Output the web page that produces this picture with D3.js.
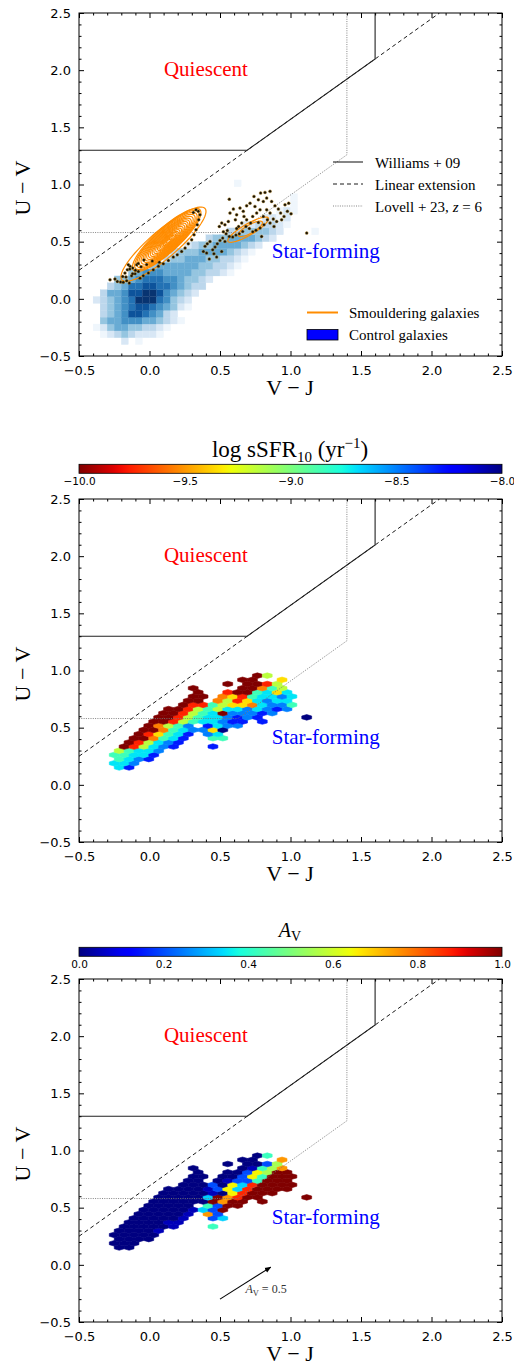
<!DOCTYPE html>
<html>
<head>
<meta charset="utf-8">
<script src="https://cdn.jsdelivr.net/npm/d3@7/dist/d3.min.js"></script>
<style>
  body { margin: 0; background: #fff; }
  svg { display: block; }
</style>
</head>
<body>
<svg id="chart" width="514" height="1367"></svg>
<script>
// ---------- axis ranges and ticks ----------
const vjRange = [-0.5, 2.5];
const uvRange = [-0.5, 2.5];
const majorTicks = [-0.5, 0.0, 0.5, 1.0, 1.5, 2.0, 2.5];
const ssfrTicks = [-10.0, -9.5, -9.0, -8.5, -8.0];
const avTicks = [0.0, 0.2, 0.4, 0.6, 0.8, 1.0];

// ---------- UVJ selection boundaries, [V−J, U−V] ----------
const williams09 = [[-0.5, 1.3], [0.693, 1.3], [1.6, 2.098], [1.6, 2.5]];
const linearExtension = [[-0.5, 0.25], [2.057, 2.5]];
const lovell23z6 = [[-0.5, 0.58], [0.627, 0.58], [1.4, 1.26], [1.4, 2.5]];

// ---------- control galaxies: 2D histogram (relative counts 0-9) ----------
const controlEdgeVJ = -0.4, controlBinVJ = 0.05;
const controlEdgeUV = -0.4, controlBinUV = 0.06;
// one string per U−V bin, from the lowest bin upwards; one digit per V−J bin
const controlCounts = [
  "00002010000000000000000000000000",
  "01234322210000000000000000000000",
  "12455443321000000000000000000000",
  "04556665543210000000000000000000",
  "03456887653200000000000000000000",
  "03456788765421000000000000000000",
  "23456799976432000000000000000000",
  "03556889986543200000000000000000",
  "00345778877654330000000000000000",
  "00044567776654432000000000000000",
  "00000456665555443321000000000000",
  "00000000455555544332100000000000",
  "00000000003445554433210000000000",
  "00000000000344455554321000000000",
  "00000000000002344555543200000000",
  "00000000000000003445555432000000",
  "00000000000000000003344443200001",
  "00000000000000000000022333210000",
  "00000000000000000000000022120000",
  "00000000000000000000000000121000",
  "00000000000000000000000000001000",
  "00000000000000000000000000001000",
  "00000000000000000000000000000000",
  "00000000000000000000100000000000"
];

// ---------- smouldering galaxies, [V−J, U−V] ----------
const smoulderingPoints = [
  [-0.280,0.167],[-0.245,0.173],[-0.228,0.152],[-0.205,0.147],[-0.186,0.144],[-0.162,0.158],
  [-0.143,0.138],[-0.190,0.196],[-0.174,0.225],[-0.157,0.254],[-0.138,0.284],[-0.167,0.190],
  [-0.127,0.202],[-0.103,0.219],[-0.079,0.240],[-0.119,0.269],[-0.091,0.298],[-0.150,0.298],
  [-0.067,0.181],[-0.044,0.202],[-0.008,0.225],[0.027,0.254],[0.063,0.284],[0.098,0.307],
  [0.134,0.336],[0.169,0.365],[0.197,0.386],[0.228,0.415],[0.252,0.444],[0.275,0.482],
  [0.299,0.517],[0.316,0.561],[0.330,0.604],[0.339,0.648],[0.349,0.692],[0.358,0.735],
  [0.346,0.765],[0.330,0.779],[0.311,0.756],
  [-0.10,0.25],[-0.06,0.28],[-0.02,0.30],[-0.08,0.31],[-0.04,0.34],[-0.12,0.22],[-0.14,0.26],
  [0.02,0.33],[0.07,0.32],
  [0.394,0.459],[0.410,0.482],[0.429,0.502],[0.448,0.429],[0.465,0.453],[0.481,0.482],
  [0.500,0.511],[0.519,0.531],[0.535,0.502],[0.424,0.348],[0.476,0.365],[0.405,0.400],
  [0.457,0.394],[0.512,0.415],[0.382,0.415],
  [0.495,0.633],[0.512,0.663],[0.535,0.648],[0.559,0.677],[0.571,0.750],[0.566,0.872],
  [0.595,0.785],[0.618,0.735],[0.642,0.794],[0.665,0.765],[0.689,0.814],[0.713,0.837],
  [0.741,0.896],[0.788,0.925],[0.819,0.931],[0.855,0.940],[0.831,0.881],[0.866,0.852],
  [0.890,0.814],[0.914,0.785],[0.930,0.750],[0.954,0.721],[0.978,0.765],[1.004,0.744],
  [0.902,0.677],[0.878,0.698],[0.855,0.663],[0.812,0.648],[0.784,0.619],[0.755,0.599],
  [0.732,0.587],[0.708,0.616],[0.684,0.633],[0.661,0.590],[0.637,0.569],[0.613,0.558],
  [0.590,0.540],[0.566,0.546],[0.552,0.598],[0.524,0.587],[0.543,0.569],[0.618,0.616],
  [0.689,0.692],[0.732,0.721],[0.760,0.750],[0.784,0.779],[0.831,0.779],[0.855,0.750],
  [0.807,0.721],[0.836,0.692],[0.795,0.546],[0.772,0.668],[0.717,0.663],[0.654,0.663],
  [0.670,0.721],[0.609,0.692],[0.632,0.633],[0.961,0.823],[0.987,0.837],[0.883,0.633],
  [0.937,0.692],[0.748,0.808],[0.807,0.852],[0.772,0.867],
  [1.115,0.575]
];

// density contours of the smouldering galaxies:
// [centre V−J, centre U−V, major-axis tip V−J, major-axis tip U−V, minor/major ratio]
const smoulderingContours = [
  [0.099, 0.478, 0.394, 0.790, 0.25],
  [0.1220, 0.5150, 0.3580, 0.7790, 0.27],
  [0.1227, 0.5143, 0.3445, 0.7625, 0.27],
  [0.1234, 0.5136, 0.3311, 0.7459, 0.28],
  [0.1242, 0.5128, 0.3177, 0.7293, 0.28],
  [0.1249, 0.5121, 0.3043, 0.7127, 0.28],
  [0.1256, 0.5114, 0.2908, 0.6962, 0.29],
  [0.1262, 0.5108, 0.2796, 0.6824, 0.29],
  [0.1268, 0.5102, 0.2684, 0.6686, 0.29],
  [0.1274, 0.5096, 0.2572, 0.6548, 0.30],
  [0.1280, 0.5090, 0.2460, 0.6410, 0.30],
  [0.1286, 0.5084, 0.2348, 0.6272, 0.30],
  [0.1292, 0.5078, 0.2236, 0.6134, 0.31],
  [0.1298, 0.5072, 0.2124, 0.5996, 0.31],
  [0.1304, 0.5066, 0.2012, 0.5858, 0.31],
  [0.1309, 0.5061, 0.1923, 0.5747, 0.32],
  [0.1314, 0.5056, 0.1833, 0.5637, 0.32],
  [0.1318, 0.5052, 0.1743, 0.5527, 0.33],
  [0.1323, 0.5047, 0.1653, 0.5417, 0.33],
  [0.1328, 0.5042, 0.1564, 0.5306, 0.34],
  [0.1333, 0.5037, 0.1475, 0.5195, 0.34],
  [0.700, 0.605, 0.843, 0.707, 0.24],
  [0.715, 0.612, 0.800, 0.672, 0.30]
];

// ---------- hexbin grid shared by both coloured panels ----------
const hexOriginVJ = -0.285, hexWidthVJ = 0.07;
const hexOriginUV = 0.152, hexHeightUV = 0.073;
// one string per half-row (even rows on the main lattice, odd rows offset by half a cell)
// '.' = empty cell, digit = index into the level table of that panel
const ssfrLevels = [-10.0, -9.75, -9.55, -9.35, -9.15, -8.85, -8.7, -8.5, -8.3, -8.0];
const hexSSFR = [
  ".68..................",
  "667.................",
  ".5678................",
  "55668...............",
  ".45667...............",
  ".014678...8.........",
  "..014678.............",
  "..002568..55........",
  "...013568.76.........",
  "...002567739........",
  "....02457.8677.......",
  "....0014566788.8....",
  ".....00145667878....9",
  ".....001456077787...",
  "......0014546676787..",
  ".......011543326775.",
  "........00.24136766..",
  "........00.23156676.",
  ".........0..1005636..",
  "........0....00254..",
  "............0.0014...",
  ".............00..3..",
  "...............04...."
];
const avLevels = [0.0, 0.05, 0.2, 0.33, 0.42, 0.55, 0.65, 0.75, 0.87, 1.0];
const hexAV = [
  ".00..................",
  "000.................",
  ".0000................",
  "00000...............",
  ".00001...............",
  ".000001...4.........",
  "..000011.............",
  "..000001..23........",
  "...000001.72.........",
  "...000001329........",
  "....00000.4299.......",
  "....0000009799.9....",
  ".....00000397899....9",
  ".....000001068999...",
  "......0000126389999..",
  ".......000206389999.",
  "........00.01224999..",
  "........00.00264999.",
  ".........0..0026599..",
  "........0....01457..",
  "............0.0025...",
  ".............00..7..",
  "...............04...."
];

// ---------- reddening vector ----------
const reddeningStart = [0.5, -0.3];
const reddeningEnd = [0.86, -0.02];

// ================= drawing =================
const serif = "'Liberation Serif', 'DejaVu Serif', serif";
const sans = "'DejaVu Sans', sans-serif";
const svg = d3.select("#chart");
const defs = svg.append("defs");
const plotLeft = 79, plotRight = 502, plotH = 343;
const panelTops = [13, 499, 979];

// matplotlib "jet"
function jet(t) {
  t = Math.max(0, Math.min(1, t));
  const seg = pts => {
    for (let k = 1; k < pts.length; k++) {
      if (t <= pts[k][0]) {
        const [x0, y0] = pts[k - 1], [x1, y1] = pts[k];
        return y0 + (y1 - y0) * (t - x0) / (x1 - x0);
      }
    }
    return pts[pts.length - 1][1];
  };
  const r = seg([[0, 0], [0.35, 0], [0.66, 1], [0.89, 1], [1, 0.5]]);
  const g = seg([[0, 0], [0.125, 0], [0.375, 1], [0.64, 1], [0.91, 0], [1, 0]]);
  const b = seg([[0, 0.5], [0.11, 1], [0.34, 1], [0.65, 0], [1, 0]]);
  return d3.rgb(r * 255, g * 255, b * 255).formatHex();
}
const ssfrColor = d3.scaleSequential(t => jet(1 - t)).domain([-10, -8]);
const avColor = d3.scaleSequential(jet).domain([0, 1]);
const bluesColor = n => d3.interpolateBlues(0.04 + (n - 1) * 0.118);

function panel(top, idx) {
  const x = d3.scaleLinear().domain(vjRange).range([plotLeft, plotRight]);
  const y = d3.scaleLinear().domain(uvRange).range([top + plotH, top]);
  const g = svg.append("g");
  defs.append("clipPath").attr("id", "clip" + idx)
    .append("rect").attr("x", plotLeft).attr("y", top)
    .attr("width", plotRight - plotLeft).attr("height", plotH);
  const inner = g.append("g").attr("clip-path", `url(#clip${idx})`);
  return { x, y, g, inner, top };
}

function drawBoundaries(p) {
  const line = d3.line().x(d => p.x(d[0])).y(d => p.y(d[1]));
  p.inner.append("path").attr("d", line(linearExtension)).attr("fill", "none")
    .attr("stroke", "#000").attr("stroke-width", 0.9).attr("stroke-dasharray", "4,3");
  p.inner.append("path").attr("d", line(lovell23z6)).attr("fill", "none")
    .attr("stroke", "#777").attr("stroke-width", 0.9).attr("stroke-dasharray", "1,1.3");
  p.inner.append("path").attr("d", line(williams09)).attr("fill", "none")
    .attr("stroke", "#222").attr("stroke-width", 1.1);
}

function drawRegionLabels(p) {
  p.g.append("text").attr("x", p.x(0.40)).attr("y", p.y(1.95))
    .attr("text-anchor", "middle").attr("fill", "#ff0000")
    .attr("font-family", serif).attr("font-size", 21).text("Quiescent");
  p.g.append("text").attr("x", p.x(1.25)).attr("y", p.y(0.36))
    .attr("text-anchor", "middle").attr("fill", "#0000ff")
    .attr("font-family", serif).attr("font-size", 21).text("Star-forming");
}

function drawAxes(p) {
  const bottom = p.top + plotH;
  const fmt = d3.format(".1f");
  const minor = d3.range(-5, 26).map(k => k / 10)
    .filter(v => !majorTicks.some(m => Math.abs(m - v) < 1e-6));
  const sides = [
    [() => d3.axisBottom(p.x), `translate(0,${bottom})`, true, 9.5],
    [() => d3.axisTop(p.x), `translate(0,${p.top})`, false, 3],
    [() => d3.axisLeft(p.y), `translate(${plotLeft},0)`, true, 8],
    [() => d3.axisRight(p.y), `translate(${plotRight},0)`, false, 3]
  ];
  sides.forEach(([make, tr, labelled, pad]) => {
    const maj = p.g.append("g").attr("transform", tr)
      .call(make().tickValues(majorTicks).tickSizeInner(-5).tickSizeOuter(0)
        .tickPadding(pad).tickFormat(labelled ? fmt : () => ""));
    const mn = p.g.append("g").attr("transform", tr)
      .call(make().tickValues(minor).tickSizeInner(-2.5).tickSizeOuter(0).tickFormat(() => ""));
    [maj, mn].forEach(a => {
      a.select(".domain").remove();
      a.selectAll("line").attr("stroke", "#000").attr("stroke-width", 1);
      a.selectAll("text").attr("font-family", sans).attr("font-size", 13).attr("fill", "#000");
    });
  });
  p.g.append("rect").attr("x", plotLeft).attr("y", p.top)
    .attr("width", plotRight - plotLeft).attr("height", plotH)
    .attr("fill", "none").attr("stroke", "#000").attr("stroke-width", 1);
  // axis titles
  p.g.append("text").attr("transform", `translate(30,${p.top + 175}) rotate(-90)`)
    .attr("text-anchor", "middle").attr("font-family", serif).attr("font-size", 22)
    .text("U − V");
  p.g.append("text").attr("x", 290).attr("y", bottom + 39)
    .attr("text-anchor", "middle").attr("font-family", serif).attr("font-size", 22)
    .text("V − J");
}

function drawHexes(p, rows, levels, color) {
  const cells = [];
  rows.forEach((row, h) => {
    [...row].forEach((ch, i) => {
      if (ch === ".") return;
      cells.push({
        vj: hexOriginVJ + (i + (h % 2 ? 0.5 : 0)) * hexWidthVJ,
        uv: hexOriginUV + h * hexHeightUV / 2,
        value: levels[+ch]
      });
    });
  });
  const shape = [[0.5, -0.5], [0.5, 0.5], [0, 1], [-0.5, 0.5], [-0.5, -0.5], [0, -1]];
  const line = d3.line().x(d => p.x(d[0])).y(d => p.y(d[1]));
  p.inner.selectAll("path.hex").data(cells).join("path").attr("class", "hex")
    .attr("d", c => line(shape.map(([a, b]) => [c.vj + a * hexWidthVJ, c.uv + b * hexHeightUV / 3])) + "Z")
    .attr("fill", c => color(c.value)).attr("stroke", c => color(c.value)).attr("stroke-width", 0.6);
}

function drawColorbar(barTop, domain, ticks, colorFn, titleFn) {
  const id = "grad" + Math.round(barTop);
  const grad = defs.append("linearGradient").attr("id", id).attr("x1", 0).attr("x2", 1).attr("y1", 0).attr("y2", 0);
  d3.range(0, 1.0001, 0.02).forEach(t => {
    grad.append("stop").attr("offset", t).attr("stop-color", colorFn(domain[0] + t * (domain[1] - domain[0])));
  });
  const cx = d3.scaleLinear().domain(domain).range([plotLeft, plotRight]);
  svg.append("rect").attr("x", plotLeft).attr("y", barTop).attr("width", plotRight - plotLeft)
    .attr("height", 9).attr("fill", `url(#${id})`).attr("stroke", "#000").attr("stroke-width", 0.8);
  const ax = svg.append("g").attr("transform", `translate(0,${barTop + 9})`)
    .call(d3.axisBottom(cx).tickValues(ticks).tickSize(0).tickPadding(4.2).tickFormat(d3.format(".1f")));
  ax.select(".domain").remove();
  ax.selectAll("text").attr("font-family", sans).attr("font-size", 10.5).attr("fill", "#000");
  titleFn();
}

// ---------- panel 1: control histogram + smouldering contours ----------
{
  const p = panel(panelTops[0], 0);
  const cells = [];
  controlCounts.forEach((row, r) => [...row].forEach((ch, c) => {
    if (+ch > 0) cells.push({ r, c, n: +ch });
  }));
  const bx = c => p.x(controlEdgeVJ + c * controlBinVJ);
  const by = r => p.y(controlEdgeUV + r * controlBinUV);
  p.inner.selectAll("rect.bin").data(cells).join("rect").attr("class", "bin")
    .attr("x", d => bx(d.c)).attr("y", d => by(d.r + 1))
    .attr("width", d => bx(d.c + 1) - bx(d.c)).attr("height", d => by(d.r) - by(d.r + 1))
    .attr("fill", d => bluesColor(d.n)).attr("stroke", d => bluesColor(d.n)).attr("stroke-width", 0.3);

  drawBoundaries(p);

  // contours
  const contourPath = ([cx, cy, tx, ty, ratio]) => {
    const px = p.x(cx), py = p.y(cy);
    const ax = p.x(tx) - px, ay = p.y(ty) - py;
    const bx2 = -ay * ratio, by2 = ax * ratio;
    const pts = d3.range(0, 73).map(k => {
      const a = k / 72 * 2 * Math.PI;
      return [px + ax * Math.cos(a) + bx2 * Math.sin(a), py + ay * Math.cos(a) + by2 * Math.sin(a)];
    });
    return d3.line()(pts) + "Z";
  };
  p.inner.selectAll("path.contour").data(smoulderingContours).join("path").attr("class", "contour")
    .attr("d", contourPath).attr("fill", "none").attr("stroke", "#ff8c00").attr("stroke-width", 1.2);

  p.inner.selectAll("circle.gal").data(smoulderingPoints).join("circle").attr("class", "gal")
    .attr("cx", d => p.x(d[0])).attr("cy", d => p.y(d[1])).attr("r", 1.5)
    .attr("fill", "#151005").attr("stroke", "#c8962e").attr("stroke-width", 0.4);

  drawRegionLabels(p);

  // legend: selection boundaries
  const lg = p.g.append("g").attr("font-family", serif).attr("font-size", 15);
  const rows = [162, 184, 206];
  lg.append("line").attr("x1", 333).attr("x2", 363).attr("y1", rows[0]).attr("y2", rows[0])
    .attr("stroke", "#222").attr("stroke-width", 1.1);
  lg.append("line").attr("x1", 333).attr("x2", 363).attr("y1", rows[1]).attr("y2", rows[1])
    .attr("stroke", "#000").attr("stroke-width", 0.9).attr("stroke-dasharray", "4,3");
  lg.append("line").attr("x1", 333).attr("x2", 363).attr("y1", rows[2]).attr("y2", rows[2])
    .attr("stroke", "#777").attr("stroke-width", 0.9).attr("stroke-dasharray", "1,1.3");
  lg.append("text").attr("x", 375).attr("y", rows[0] + 5.5).text("Williams + 09");
  lg.append("text").attr("x", 375).attr("y", rows[1] + 5.5).text("Linear extension");
  const lv = lg.append("text").attr("x", 375).attr("y", rows[2] + 5.5);
  lv.append("tspan").text("Lovell + 23,  ");
  lv.append("tspan").attr("font-style", "italic").text("z");
  lv.append("tspan").text(" = 6");

  // legend: samples
  lg.append("line").attr("x1", 307).attr("x2", 338).attr("y1", 312.5).attr("y2", 312.5)
    .attr("stroke", "#ff8c00").attr("stroke-width", 2);
  lg.append("rect").attr("x", 307).attr("y", 329.5).attr("width", 31).attr("height", 10.5)
    .attr("fill", "#0000ff").attr("stroke", "#000").attr("stroke-width", 0.8);
  lg.append("text").attr("x", 349).attr("y", 317.5).text("Smouldering galaxies");
  lg.append("text").attr("x", 349).attr("y", 339.5).text("Control galaxies");

  drawAxes(p);
}

// ---------- panel 2: hexbins coloured by log sSFR ----------
{
  drawColorbar(464.3, [-10, -8], ssfrTicks, v => ssfrColor(v), () => {
    const t = svg.append("text").attr("x", 290).attr("y", 456.7).attr("text-anchor", "middle")
      .attr("font-family", serif).attr("font-size", 23);
    t.append("tspan").text("log sSFR");
    t.append("tspan").attr("font-size", 15).attr("dy", 5).text("10");
    t.append("tspan").attr("dy", -5).text(" (yr");
    t.append("tspan").attr("font-size", 15).attr("dy", -9).text("−1");
    t.append("tspan").attr("dy", 9).text(")");
  });
  const p = panel(panelTops[1], 1);
  drawHexes(p, hexSSFR, ssfrLevels, ssfrColor);
  drawBoundaries(p);
  drawRegionLabels(p);
  drawAxes(p);
}

// ---------- panel 3: hexbins coloured by A_V ----------
{
  drawColorbar(947.3, [0, 1], avTicks, v => avColor(v), () => {
    const t = svg.append("text").attr("x", 290).attr("y", 937).attr("text-anchor", "middle")
      .attr("font-family", serif).attr("font-size", 20);
    t.append("tspan").attr("font-style", "italic").text("A");
    t.append("tspan").attr("font-size", 14).attr("dy", 4).text("V");
  });
  const p = panel(panelTops[2], 2);
  drawHexes(p, hexAV, avLevels, avColor);
  drawBoundaries(p);
  drawRegionLabels(p);

  // reddening vector
  defs.append("marker").attr("id", "arrowhead").attr("viewBox", "0 0 10 10")
    .attr("refX", 9).attr("refY", 5).attr("markerWidth", 6).attr("markerHeight", 6)
    .attr("orient", "auto").append("path").attr("d", "M0,1 L10,5 L0,9 Z").attr("fill", "#000");
  p.g.append("line")
    .attr("x1", p.x(reddeningStart[0])).attr("y1", p.y(reddeningStart[1]))
    .attr("x2", p.x(reddeningEnd[0])).attr("y2", p.y(reddeningEnd[1]))
    .attr("stroke", "#000").attr("stroke-width", 1.1).attr("marker-end", "url(#arrowhead)");
  const lab = p.g.append("text").attr("x", p.x(0.68)).attr("y", p.y(-0.25))
    .attr("font-family", serif).attr("font-size", 12).attr("fill", "#333");
  lab.append("tspan").attr("font-style", "italic").text("A");
  lab.append("tspan").attr("font-size", 8.5).attr("dy", 2.5).text("V");
  lab.append("tspan").attr("dy", -2.5).text(" = 0.5");

  drawAxes(p);
}
</script>
</body>
</html>
